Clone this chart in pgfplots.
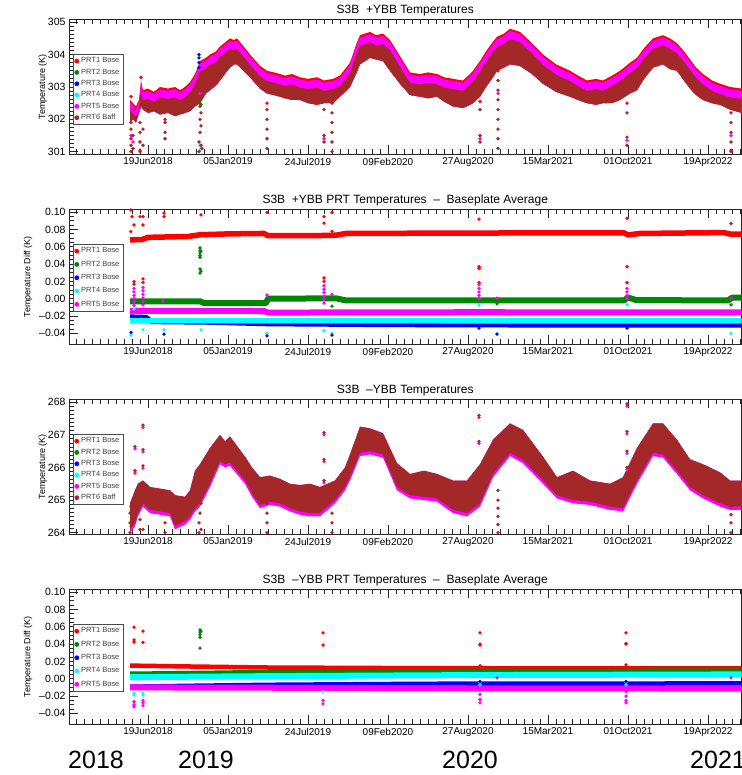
\documentclass[border=0pt]{standalone}
\usepackage{fontspec}
\setmainfont{Liberation Sans}
\usepackage{pgfplots}
\usepackage{pgfplotstable}
\pgfplotsset{compat=1.18}
\usepgfplotslibrary{fillbetween}

\definecolor{prtred}{RGB}{255,0,0}
\definecolor{prtgreen}{RGB}{0,135,0}
\definecolor{prtblue}{RGB}{0,0,255}
\definecolor{prtcyan}{RGB}{0,255,255}
\definecolor{prtmag}{RGB}{255,0,255}
\definecolor{prtbrown}{RGB}{165,40,40}

% x = days since 19 Jun 2018
% +YBB temperatures: PRT1 top, PRT5 top, PRT6 top, lower envelope
\pgfplotstableread{
d r m b lo
-45 302.6 302.53 302.28 301.9
-37.5 302.5 302.43 302.18 302.0
-30 302.4 302.33 302.08 301.9
-22.5 302.6 302.53 302.28 302.2
-17.5 303.2 303.13 302.88 302.4
-12.5 302.9 302.83 302.58 302.3
0 302.95 302.88 302.63 302.2
15 302.85 302.78 302.53 302.25
30 303.0 302.93 302.68 302.15
50 302.95 302.88 302.63 302.2
67.5 303.0 302.93 302.68 302.1
80 302.9 302.83 302.58 302.15
92.5 303.0 302.93 302.68 302.2
105 303.15 303.08 302.83 302.25
117.5 303.4 303.33 303.08 302.4
130 303.8 303.73 303.48 302.5
145 303.9 303.83 303.58 302.8
155 304.0 303.93 303.68 302.9
170 304.1 304.03 303.78 303.05
180 304.25 304.18 303.93 303.2
195 304.4 304.33 304.08 303.45
205 304.5 304.43 304.18 303.6
215 304.45 304.38 304.13 303.7
222.5 304.5 304.43 304.18 303.7
242.5 304.2 304.13 303.88 303.45
255 304.0 303.93 303.68 303.3
280 303.65 303.58 303.33 302.95
297.5 303.5 303.43 303.18 302.8
315 303.45 303.38 303.13 302.75
330 303.4 303.33 303.08 302.7
342.5 303.35 303.28 303.03 302.65
360 303.4 303.33 303.08 302.6
380 303.3 303.23 302.98 302.6
400 303.25 303.18 302.93 302.5
422.5 303.3 303.23 302.98 302.45
440 303.2 303.13 302.88 302.5
462.5 303.25 303.18 302.93 302.5
480 303.35 303.28 303.03 302.7
505 303.75 303.68 303.43 303.0
520 304.3 304.23 303.98 303.4
530 304.6 304.53 304.28 303.7
555 304.7 304.63 304.38 303.9
570 304.6 304.53 304.28 303.85
587.5 304.65 304.58 304.33 303.8
605 304.45 304.38 304.13 303.5
630 303.95 303.88 303.63 303.1
655 303.45 303.38 303.13 302.75
680 303.4 303.33 303.08 302.7
700 303.45 303.38 303.13 302.65
722.5 303.4 303.33 303.08 302.7
740 303.3 303.23 302.98 302.55
762.5 303.25 303.18 302.93 302.4
787.5 303.2 303.13 302.88 302.35
805 303.4 303.33 303.08 302.45
812.5 303.5 303.43 303.18 302.5
830 303.8 303.73 303.48 302.7
845 304.1 304.03 303.78 303.0
862.5 304.4 304.33 304.08 303.3
872.5 304.55 304.48 304.23 303.5
890 304.65 304.58 304.33 303.6
905 304.8 304.73 304.48 303.7
930 304.7 304.63 304.38 303.65
960 304.35 304.28 304.03 303.4
987.5 304.0 303.93 303.68 303.1
1020 303.7 303.63 303.38 302.85
1055 303.5 303.43 303.18 302.7
1075 303.35 303.28 303.03 302.6
1097.5 303.2 303.13 302.88 302.5
1120 303.25 303.18 302.93 302.45
1137.5 303.2 303.13 302.88 302.5
1160 303.35 303.28 303.03 302.5
1180 303.5 303.43 303.18 302.6
1205 303.75 303.68 303.43 302.8
1222.5 303.9 303.83 303.58 302.9
1240 304.2 304.13 303.88 303.25
1262.5 304.5 304.43 304.18 303.6
1287.5 304.6 304.53 304.28 303.7
1305 304.5 304.43 304.18 303.55
1322.5 304.35 304.28 304.03 303.5
1340 304.1 304.03 303.78 303.2
1355 303.85 303.78 303.53 302.95
1370 303.6 303.53 303.28 302.75
1387.5 303.4 303.33 303.08 302.6
1410 303.2 303.13 302.88 302.5
1430 303.1 303.03 302.78 302.45
1455 303.0 302.93 302.68 302.3
1484 302.95 302.88 302.63 302.2
}\plusT

% -YBB temperatures: PRT6 top, PRT6 bottom, PRT5 bottom
\pgfplotstableread{
d t lo mlo
-45 264.9 264.1 264.0
-32.5 265.3 264.3 264.2
-25 265.5 264.6 264.5
-12.5 265.6 264.9 264.8
5 265.4 264.7 264.6
30 265.35 264.65 264.55
55 265.3 264.6 264.5
67.5 265.15 264.2 264.1
92.5 265.1 264.35 264.25
105 265.3 264.5 264.4
117.5 265.9 264.75 264.65
130 266.1 264.9 264.8
155 266.6 265.5 265.4
180 267.0 266.2 266.1
192.5 266.8 266.1 266.0
205 266.95 266.15 266.05
242.5 266.33 265.6 265.5
260 266.0 265.2 265.1
280 265.7 264.85 264.75
305 265.75 264.95 264.85
330 265.65 264.9 264.8
355 265.5 264.75 264.65
380 265.46 264.65 264.55
405 265.5 264.6 264.5
430 265.4 264.6 264.5
467.5 265.6 265.0 264.9
492.5 266.0 265.4 265.3
505 266.4 265.7 265.6
530 267.25 266.45 266.35
555 267.2 266.5 266.4
587.5 267.05 266.4 266.3
622.5 266.13 265.4 265.3
655 265.8 265.15 265.05
690 265.9 265.1 265.0
722.5 265.8 265.05 264.95
762.5 265.6 264.7 264.6
797.5 265.6 264.6 264.5
830 266.1 264.9 264.8
862.5 266.85 265.8 265.7
905 267.35 266.45 266.35
937.5 267.15 266.23 266.13
987.5 266.33 265.6 265.5
1022.5 265.7 265.15 265.05
1062.5 265.9 265.0 264.9
1105 265.6 264.95 264.85
1155 265.5 264.8 264.7
1187.5 265.7 264.75 264.65
1222.5 266.6 265.6 265.5
1262.5 267.35 266.45 266.35
1287.5 267.35 266.4 266.3
1322.5 266.85 265.9 265.8
1355 266.25 265.4 265.3
1387.5 266.1 265.15 265.05
1430 265.85 264.9 264.8
1455 265.6 264.8 264.7
1484 265.6 264.8 264.7
}\minusT

\pgfplotsset{
  panel/.style={
    scale only axis, width=672.5pt, height=135.3pt,
    xmin=-197.5, xmax=1483.75,
    axis line style={black!85, line width=0.8pt},
    every tick/.style={black!85, line width=0.9pt},
    tick align=inside,
    major tick length=9pt, minor tick length=5pt,
    ytick pos=left,
    xtick={0,200,...,1400},
    xticklabels={19Jun2018,05Jan2019,24Jul2019,09Feb2020,27Aug2020,15Mar2021,01Oct2021,19Apr2022},
    minor xtick={-180,-160,...,1480},
    xticklabel style={font=\fontsize{10}{12}\selectfont},
    yticklabel style={font=\fontsize{10.5}{12}\selectfont},
    /pgf/number format/assume math mode=true,
    title style={font=\fontsize{12}{14}\selectfont, yshift=-7pt},
    ylabel style={font=\fontsize{9}{11}\selectfont},
    legend image code/.code={\fill[#1] (0.12cm,0cm) circle (2.1pt);},
    legend style={at={(0.0055,0.741)}, anchor=north west,
      font=\fontsize{7.5}{9}\selectfont, text=black!75,
      draw=black!70, line width=0.5pt, fill=white,
      inner xsep=1.5pt, inner ysep=1.5pt, cells={anchor=west}},
  },
  tpanel/.style={panel, minor y tick num=7, ylabel style={yshift=-6pt}},
  dpanel/.style={panel,
    ymin=-0.0527, ymax=0.1038,
    ytick={-0.04,-0.02,0,0.02,0.04,0.06,0.08,0.10},
    yticklabels={--0.04,--0.02,0.00,0.02,0.04,0.06,0.08,0.10},
    minor y tick num=3,
    ylabel={Temperature Diff (K)}},
  dot/.style={only marks, mark=*, mark size=1.5pt, forget plot, color=#1},
  band/.style={line width=#1, line join=round, forget plot},
}

\begin{document}
\begin{tikzpicture}

%---------------- +YBB temperatures
\begin{axis}[tpanel, at={(69pt,-19pt)}, anchor=north west,
  ymin=300.92, ymax=305.1, ytick={301,302,303,304,305},
  title={S3B \ +YBB Temperatures}, ylabel={Temperature (K)},
  legend style={row sep=0.6pt}]
\addplot[draw=none, name path=ar, forget plot] table[x=d, y=r]{\plusT};
\addplot[draw=none, name path=am, forget plot] table[x=d, y=m]{\plusT};
\addplot[draw=none, name path=ab, forget plot] table[x=d, y=b]{\plusT};
\addplot[draw=none, name path=alo, forget plot] table[x=d, y=lo]{\plusT};
\addplot[prtred, forget plot] fill between[of=ar and alo];
\addplot[prtmag, forget plot] fill between[of=am and alo];
\addplot[prtbrown, forget plot] fill between[of=ab and alo];
\addplot[dot=prtcyan] coordinates {(127.5,301.0)(130,301.05)(132.5,301.1)(130,301.2)};
\addplot[dot=prtblue] coordinates {(127.5,303.6)(127.5,303.75)(127.5,303.9)(127.5,304.0)};
\addplot[dot=prtgreen] coordinates {(130,302.5)(132.5,302.45)};
\addplot[dot=prtred] coordinates {(-42.5,302.7)(-17.5,303.3)(42.5,302.0)(297.5,302.5)(460,302.5)(830,302.55)(875,303.5)(1197.5,302.5)(1457.5,301.05)(-20,301.05)};
\addplot[dot=prtmag] coordinates {(-42.5,301.5)(130,302.8)(440,301.4)(830,301.4)(875,302.8)(1197.5,301.35)(1457.5,301.5)(-37.5,301.3)};
\addplot[dot=prtbrown] coordinates {(-42.5,301.0)(-42.5,301.2)(-42.5,301.4)(-42.5,301.7)(-42.5,301.9)(-37.5,301.1)(-37.5,301.5)(-35,302.3)(-20,301.0)(-20,301.3)(-20,301.6)(-20,301.9)(-17.5,302.6)(-12.5,301.2)(-12.5,301.7)(42.5,301.4)(42.5,301.6)(42.5,301.9)(127.5,301.0)(127.5,301.3)(130,301.6)(130,302.0)(130,302.4)(132.5,301.2)(132.5,301.8)(132.5,302.2)(135,301.1)(135,302.7)(297.5,301.1)(297.5,301.4)(297.5,301.7)(297.5,302.0)(297.5,302.3)(440,301.3)(440,301.5)(440,302.3)(460,301.0)(460,301.3)(460,301.6)(460,301.9)(460,302.2)(830,301.3)(830,301.5)(830,302.3)(875,301.1)(875,301.4)(875,301.7)(875,302.0)(875,302.3)(875,302.6)(875,302.9)(875,303.2)(1197.5,301.2)(1197.5,301.45)(1197.5,302.2)(1457.5,301.0)(1457.5,301.3)(1457.5,301.6)(1457.5,301.9)(1457.5,302.2)};
\addlegendimage{color=prtred}\addlegendentry{PRT1 Bose}
\addlegendimage{color=prtgreen}\addlegendentry{PRT2 Bose}
\addlegendimage{color=prtblue}\addlegendentry{PRT3 Bose}
\addlegendimage{color=prtcyan}\addlegendentry{PRT4 Bose}
\addlegendimage{color=prtmag}\addlegendentry{PRT5 Bose}
\addlegendimage{color=prtbrown}\addlegendentry{PRT6 Baff}
\end{axis}

%---------------- +YBB differences from baseplate average
\begin{axis}[dpanel, at={(69pt,-209pt)}, anchor=north west,
  title={S3B \ +YBB PRT Temperatures \ -- \ Baseplate Average},
  legend style={row sep=2.6pt}]
\addplot[prtred, band=5.5pt] coordinates {(-45,0.0680)(-15,0.0685)(0,0.0710)(100,0.0720)(130,0.0740)(200,0.0750)(290,0.0755)(300,0.0730)(420,0.0730)(470,0.0735)(495,0.0755)(800,0.0760)(1190,0.0762)(1200,0.0738)(1230,0.0755)(1440,0.0765)(1455,0.0748)(1484,0.0748)};
\addplot[prtgreen, band=6pt] coordinates {(-45,-0.0030)(130,-0.0030)(140,-0.0050)(295,-0.0050)(300,0.0000)(470,0.0005)(495,-0.0020)(1190,-0.0020)(1200,0.0015)(1220,-0.0015)(1450,-0.0020)(1460,0.0012)(1484,0.0012)};
\addplot[prtblue, band=5pt] coordinates {(-45,-0.0210)(-5,-0.0215)(10,-0.0265)(150,-0.0272)(300,-0.0290)(600,-0.0300)(1000,-0.0305)(1484,-0.0305)};
\addplot[prtcyan, band=5.5pt] coordinates {(-45,-0.0255)(300,-0.0252)(800,-0.0255)(1484,-0.0256)};
\addplot[prtmag, band=6pt] coordinates {(-45,-0.0140)(290,-0.0142)(300,-0.0160)(800,-0.0156)(1484,-0.0158)};
\addplot[dot=prtred] coordinates {(-43,0.1027)(-40,0.095)(-35,0.0853)(-20,0.095)(-12.5,0.095)(-12.5,0.0853)(-43,0.0776)(40,0.099)(40,0.095)(132.5,0.097)(297.5,0.100)(440,0.095)(440,0.0875)(460,0.100)(460,0.078)(-35,0.0197)(-35,0.017)(-12.5,0.023)(-12.5,0.019)(440,0.024)(440,0.020)(827.5,0.092)(827.5,0.037)(827.5,0.035)(827.5,0.0185)(1197.5,0.093)(1197.5,0.037)(1197.5,0.0185)(1457.5,0.087)};
\addplot[dot=prtmag] coordinates {(-35,0.012)(-35,0.008)(-35,0.004)(-35,0.0)(-35,-0.004)(-35,-0.008)(-12.5,0.013)(-12.5,0.009)(-12.5,0.005)(-12.5,0.001)(-12.5,-0.003)(-12.5,-0.007)(440,0.015)(440,0.011)(440,0.007)(440,0.003)(440,-0.001)(440,-0.005)(827.5,0.016)(827.5,0.012)(827.5,0.008)(827.5,0.004)(827.5,0.0)(1197.5,0.012)(1197.5,0.008)(1197.5,0.004)(1197.5,0.0)(37.5,-0.0027)(297.5,0.0043)(460,0.005)(872.5,0.0008)(1457.5,0.0008)};
\addplot[dot=prtgreen] coordinates {(130,0.0587)(130,0.056)(130,0.053)(130,0.050)(130,0.048)(132.5,0.055)(130,0.0344)(130,0.0297)(132.5,0.032)(460,-0.0085)(872.5,-0.006)(1457.5,-0.007)};
\addplot[dot=prtcyan] coordinates {(-42.5,-0.042)(-12.5,-0.036)(40,-0.036)(132.5,-0.036)(297.5,-0.040)(440,-0.037)(460,-0.040)(827.5,-0.0073)(1197.5,-0.007)(872.5,-0.040)(1457.5,-0.040)(-35,-0.012)};
\addplot[dot=prtblue] coordinates {(-42.5,-0.039)(40,-0.041)(297.5,-0.043)(460,-0.042)(827.5,-0.034)(1197.5,-0.034)(872.5,-0.041)(1457.5,-0.031)};
\addlegendimage{color=prtred}\addlegendentry{PRT1 Bose}
\addlegendimage{color=prtgreen}\addlegendentry{PRT2 Bose}
\addlegendimage{color=prtblue}\addlegendentry{PRT3 Bose}
\addlegendimage{color=prtcyan}\addlegendentry{PRT4 Bose}
\addlegendimage{color=prtmag}\addlegendentry{PRT5 Bose}
\end{axis}

%---------------- -YBB temperatures
\begin{axis}[tpanel, at={(69pt,-399pt)}, anchor=north west,
  ymin=263.95, ymax=268.1, ytick={264,265,266,267,268},
  title={S3B \ --YBB Temperatures}, ylabel={Temperature (K)},
  legend style={row sep=0.6pt}]
\addplot[draw=none, name path=ct, forget plot] table[x=d, y=t]{\minusT};
\addplot[draw=none, name path=clo, forget plot] table[x=d, y=lo]{\minusT};
\addplot[draw=none, name path=cmlo, forget plot] table[x=d, y=mlo]{\minusT};
\addplot[prtmag, forget plot] fill between[of=ct and cmlo];
\addplot[prtbrown, forget plot] fill between[of=ct and clo];
\addplot[dot=prtmag] coordinates {(-32.5,266.57)(-32.5,265.83)(-12.5,267.22)(-12.5,266.48)(-12.5,265.98)(440,267.0)(440,266.18)(440,265.53)(827.5,267.53)(827.5,266.73)(1197.5,267.88)(1197.5,267.03)(1197.5,266.43)(1197.5,265.93)};
\addplot[dot=prtbrown] coordinates {(-32.5,266.64)(-32.5,265.9)(-12.5,267.3)(-12.5,266.55)(-12.5,266.05)(440,267.07)(440,266.25)(440,265.6)(827.5,267.6)(827.5,266.8)(1197.5,267.95)(1197.5,267.1)(1197.5,266.5)(1197.5,266.0)(-45,264.0)(-45,264.3)(-45,264.6)(-42.5,264.2)(-42.5,264.8)(-37.5,264.4)(-20,264.1)(-20,264.4)(-12.5,264.1)(-12.5,265.2)(42.5,264.0)(42.5,264.3)(127.5,264.0)(127.5,264.3)(130,264.6)(132.5,264.1)(132.5,264.9)(297.5,264.0)(297.5,264.3)(297.5,264.6)(297.5,264.9)(460,264.0)(460,264.3)(460,264.6)(875,264.0)(875,264.25)(875,264.5)(875,264.75)(875,265.0)(875,265.3)(1457.5,264.0)(1457.5,264.3)(1457.5,264.55)(1457.5,264.8)};
\addlegendimage{color=prtred}\addlegendentry{PRT1 Bose}
\addlegendimage{color=prtgreen}\addlegendentry{PRT2 Bose}
\addlegendimage{color=prtblue}\addlegendentry{PRT3 Bose}
\addlegendimage{color=prtcyan}\addlegendentry{PRT4 Bose}
\addlegendimage{color=prtmag}\addlegendentry{PRT5 Bose}
\addlegendimage{color=prtbrown}\addlegendentry{PRT6 Baff}
\end{axis}

%---------------- -YBB differences from baseplate average
\begin{axis}[dpanel, at={(69pt,-589pt)}, anchor=north west,
  title={S3B \ --YBB PRT Temperatures \ -- \ Baseplate Average},
  legend style={row sep=2.6pt}]
\addplot[prtred, band=4.5pt] coordinates {(-45,0.0152)(100,0.0142)(300,0.0130)(600,0.0124)(1000,0.0120)(1484,0.0119)};
\addplot[prtgreen, band=4.5pt] coordinates {(-45,0.0058)(100,0.0065)(300,0.0078)(600,0.0088)(1000,0.0092)(1484,0.0093)};
\addplot[prtblue, band=4.5pt] coordinates {(-45,-0.0092)(100,-0.0082)(300,-0.0070)(700,-0.0058)(1484,-0.0054)};
\addplot[prtcyan, band=6pt] coordinates {(-45,0.0018)(300,0.0030)(800,0.0042)(1484,0.0050)};
\addplot[prtmag, band=6pt] coordinates {(-45,-0.0100)(300,-0.0104)(800,-0.0110)(1484,-0.0114)};
\addplot[dot=prtred] coordinates {(-35,0.0598)(-35,0.045)(-35,0.0425)(-12.5,0.055)(-12.5,0.042)(437.5,0.053)(437.5,0.039)(830,0.053)(830,0.040)(830,0.039)(830,0.0150)(1195,0.053)(1195,0.041)(1195,0.040)(1195,0.0160)};
\addplot[dot=prtgreen] coordinates {(130,0.0565)(130,0.054)(130,0.051)(130,0.048)(132.5,0.055)(130,0.0355)};
\addplot[dot=prtmag] coordinates {(-35,-0.0266)(-35,-0.030)(-35,-0.0324)(-12.5,-0.025)(-12.5,-0.028)(-12.5,-0.031)(437.5,-0.025)(437.5,-0.029)(830,-0.013)(830,-0.018)(830,-0.024)(830,-0.028)(1195,-0.015)(1195,-0.020)(1195,-0.025)(1195,-0.028)(872.5,0.001)(1457.5,0.001)};
\addplot[dot=prtcyan] coordinates {(-35,-0.0166)(-35,-0.019)(-12.5,-0.0166)(-12.5,-0.019)(437.5,-0.015)(830,-0.004)(830,-0.007)(1195,-0.004)(1195,-0.007)};
\addplot[dot=prtblue] coordinates {(830,-0.003)(1195,-0.003)};
\addlegendimage{color=prtred}\addlegendentry{PRT1 Bose}
\addlegendimage{color=prtgreen}\addlegendentry{PRT2 Bose}
\addlegendimage{color=prtblue}\addlegendentry{PRT3 Bose}
\addlegendimage{color=prtcyan}\addlegendentry{PRT4 Bose}
\addlegendimage{color=prtmag}\addlegendentry{PRT5 Bose}
\end{axis}

% year captions under the plots
\begin{scope}[every node/.style={anchor=base west, inner sep=0pt, font=\fontsize{25}{30}\selectfont}]
\node at (68pt,-768pt) {2018};
\node at (178pt,-768pt) {2019};
\node at (442pt,-768pt) {2020};
\node at (690pt,-768pt) {2021};
\end{scope}

\pgfresetboundingbox
\path[use as bounding box] (0pt,0pt) rectangle (741pt,-775pt);
\end{tikzpicture}
\end{document}
